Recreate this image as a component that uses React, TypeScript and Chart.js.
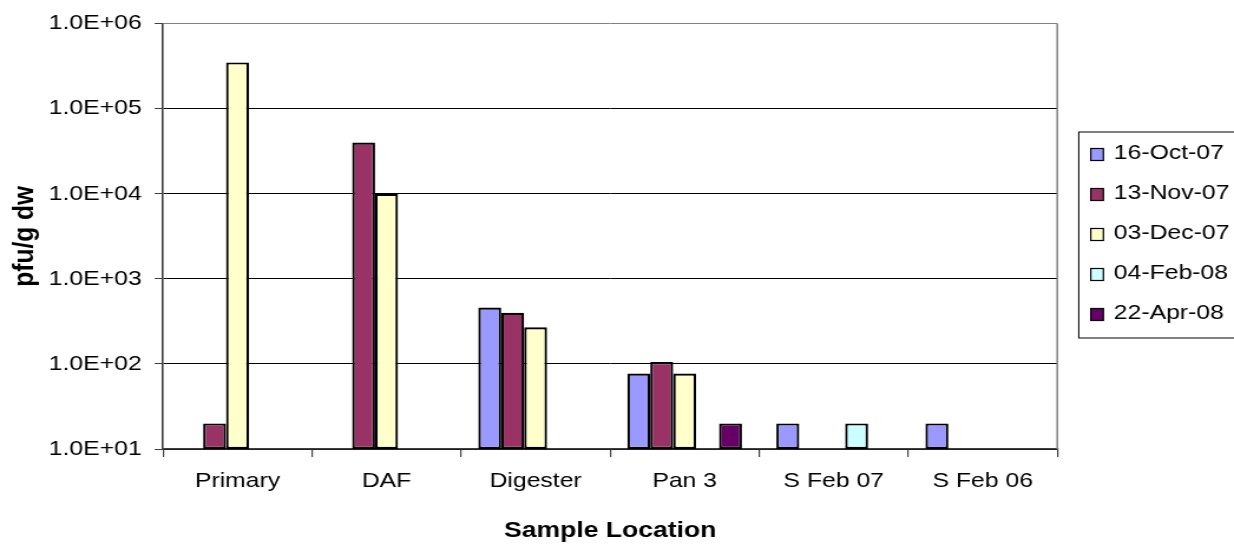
import { useEffect, useRef } from 'react';
import { Chart, registerables } from 'chart.js';

Chart.register(...registerables);

// Sample locations along the x axis
const locations = ['Primary', 'DAF', 'Digester', 'Pan 3', 'S Feb 07', 'S Feb 06'];

// Sampling dates (one bar series each)
const sampleDates = ['16-Oct-07', '13-Nov-07', '03-Dec-07', '04-Feb-08', '22-Apr-08'];

// pfu/g dw per location; null = not sampled
const oct16 = [null, null, 460, 77, 20, 20];
const nov13 = [20, 40000, 400, 105, null, null];
const dec03 = [350000, 10000, 270, 77, null, null];
const feb04 = [null, null, null, null, 20, null];
const apr22 = [null, null, null, 20, null, null];

const seriesColors = ['#9999FF', '#993366', '#FFFFCC', '#CCFFFF', '#660066'];

// Log axis decades and their labels
const yTickValues = [1e1, 1e2, 1e3, 1e4, 1e5, 1e6];
const yTickLabels = ['1.0E+01', '1.0E+02', '1.0E+03', '1.0E+04', '1.0E+05', '1.0E+06'];

// Page size and horizontal stretch of the drawing surface
const PAGE_W = 1234;
const PAGE_H = 547;
const SX = 1.18;
const CANVAS_W = Math.round(PAGE_W / SX);

const FONT = '"Liberation Sans", Arial, Helvetica, sans-serif';

const legendLayout = {
  left: 1079 / SX,
  top: 132,
  bottom: 338,
  swatchX: 1091 / SX,
  swatchW: 12.6 / SX,
  swatchH: 12,
  textX: 1114 / SX,
  firstRow: 153.5,
  rowGap: 40,
};

const framePlugin = {
  id: 'plotFrame',
  beforeDatasetsDraw(chart: any) {
    const { ctx, chartArea } = chart;
    ctx.save();
    ctx.strokeStyle = '#808080';
    ctx.lineWidth = 1.5;
    ctx.beginPath();
    ctx.moveTo(chartArea.right, chartArea.top);
    ctx.lineTo(chartArea.right, chartArea.bottom);
    ctx.stroke();
    ctx.restore();
  },
};

const boxedLegendPlugin = {
  id: 'boxedLegend',
  afterDraw(chart: any) {
    const { ctx } = chart;
    const L = legendLayout;
    ctx.save();
    ctx.fillStyle = '#ffffff';
    ctx.fillRect(L.left, L.top, CANVAS_W + 10 - L.left, L.bottom - L.top);
    ctx.strokeStyle = '#000000';
    ctx.lineWidth = 1;
    ctx.strokeRect(L.left, L.top, CANVAS_W + 10 - L.left, L.bottom - L.top);
    ctx.font = `21px ${FONT}`;
    ctx.textBaseline = 'middle';
    ctx.textAlign = 'left';
    chart.data.datasets.forEach((ds: any, i: number) => {
      const y = L.firstRow + i * L.rowGap;
      ctx.fillStyle = ds.backgroundColor;
      ctx.fillRect(L.swatchX, y - L.swatchH / 2 + 1, L.swatchW, L.swatchH);
      ctx.strokeStyle = '#000000';
      ctx.lineWidth = 1.2;
      ctx.strokeRect(L.swatchX, y - L.swatchH / 2 + 1, L.swatchW, L.swatchH);
      ctx.fillStyle = '#000000';
      ctx.fillText(ds.label, L.textX, y);
    });
    ctx.restore();
  },
};

export default function App() {
  const canvasRef = useRef<HTMLCanvasElement>(null);

  useEffect(() => {
    document.body.style.margin = '0';
    const canvas = canvasRef.current;
    if (!canvas) return;

    const seriesValues = [oct16, nov13, dec03, feb04, apr22];

    const chart = new Chart(canvas, {
      type: 'bar',
      data: {
        labels: locations,
        datasets: sampleDates.map((label, i) => ({
          label,
          data: seriesValues[i],
          backgroundColor: seriesColors[i],
          borderColor: '#000000',
          borderWidth: 2.2,
          borderSkipped: false,
          categoryPercentage: 5 / 6.5,
          barPercentage: 1,
        })),
      },
      options: {
        responsive: false,
        animation: false,
        devicePixelRatio: 1,
        layout: {
          padding: { left: 0, top: 20, right: CANVAS_W - 1057.5 / SX, bottom: 0 },
        },
        font: { family: FONT },
        plugins: {
          legend: { display: false },
          tooltip: { enabled: false },
        },
        scales: {
          x: {
            type: 'category',
            grid: {
              display: true,
              drawOnChartArea: false,
              drawTicks: true,
              tickLength: 8,
              tickColor: '#404040',
              offset: true,
              lineWidth: 1.2,
            },
            border: { display: true, color: '#404040', width: 1.6 },
            ticks: {
              color: '#000000',
              font: { family: FONT, size: 21 },
              padding: 12,
              maxRotation: 0,
              autoSkip: false,
            },
            title: {
              display: true,
              text: 'Sample Location',
              color: '#000000',
              font: { family: FONT, size: 22.5, weight: 'bold' },
              padding: { top: 0, bottom: 3 },
            },
            afterFit: (scale: any) => {
              scale.height = PAGE_H - 449;
            },
          },
          y: {
            type: 'logarithmic',
            min: 10,
            max: 1e6,
            afterBuildTicks: (scale: any) => {
              scale.ticks = yTickValues.map((value) => ({ value }));
            },
            ticks: {
              autoSkip: false,
              color: '#000000',
              font: { family: FONT, size: 21 },
              padding: 11,
              callback: (_v: any, index: number) => yTickLabels[index],
            },
            grid: {
              color: (ctx: any) => (ctx.tick && ctx.tick.value === 1e6 ? '#808080' : '#000000'),
              lineWidth: 1,
              drawTicks: true,
              tickLength: 7,
              tickColor: '#404040',
            },
            border: { display: true, color: '#404040', width: 1.6 },
            title: {
              display: true,
              text: 'pfu/g dw',
              color: '#000000',
              font: { family: FONT, size: 24.5, weight: 'bold' },
              padding: { top: 7, bottom: 0 },
            },
            afterFit: (scale: any) => {
              scale.width = 163 / SX;
            },
          },
        },
      } as any,
      plugins: [framePlugin, boxedLegendPlugin],
    });

    return () => chart.destroy();
  }, []);

  return (
    <div style={{ width: PAGE_W, height: PAGE_H, background: '#ffffff' }}>
      <canvas
        ref={canvasRef}
        width={CANVAS_W}
        height={PAGE_H}
        style={{ width: `${PAGE_W}px`, height: `${PAGE_H}px`, display: 'block' }}
      />
    </div>
  );
}
